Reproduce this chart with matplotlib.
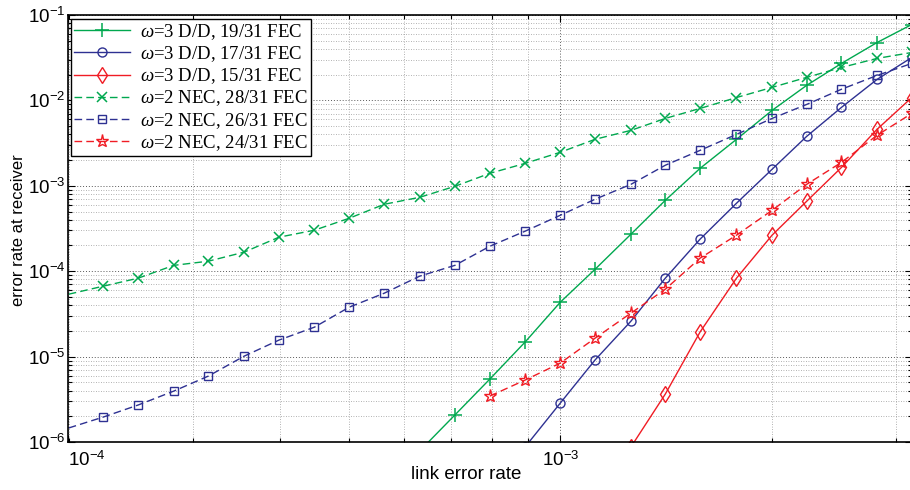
import numpy as np
import matplotlib
matplotlib.use('Agg')
import matplotlib.pyplot as plt
from matplotlib.ticker import LogLocator, NullFormatter

plt.rcParams['font.family'] = 'Liberation Sans'
plt.rcParams['mathtext.fontset'] = 'custom'
plt.rcParams['mathtext.rm'] = 'Liberation Sans'
plt.rcParams['mathtext.it'] = 'Liberation Serif:italic'

# link error rate grid (the left edge sample is the first one)
ler = [2.00e-4, 2.24e-4, 2.51e-4, 2.82e-4, 3.16e-4, 3.55e-4, 3.98e-4, 4.47e-4,
       5.01e-4, 5.62e-4, 6.31e-4, 7.08e-4, 7.94e-4, 8.91e-4, 1.00e-3, 1.12e-3,
       1.26e-3, 1.41e-3, 1.58e-3, 1.78e-3, 2.00e-3, 2.24e-3, 2.51e-3, 2.82e-3,
       3.16e-3]

dd19 = [7.85e-7, 2.07e-6, 5.46e-6, 1.48e-5, 4.34e-5, 1.05e-4, 2.71e-4, 6.76e-4,
        1.60e-3, 3.50e-3, 7.64e-3, 1.50e-2, 2.71e-2, 4.76e-2, 7.74e-2]
dd17 = [8.74e-7, 2.86e-6, 9.10e-6, 2.60e-5, 8.28e-5, 2.37e-4, 6.24e-4, 1.56e-3,
        3.79e-3, 8.28e-3, 1.76e-2, 3.18e-2]
dd15 = [8.74e-7, 3.64e-6, 1.94e-5, 8.28e-5, 2.64e-4, 6.59e-4, 1.64e-3, 4.58e-3,
        1.08e-2]
nec28 = [5.38e-5, 6.68e-5, 8.28e-5, 1.17e-4, 1.31e-4, 1.67e-4, 2.50e-4, 3.02e-4,
         4.17e-4, 6.08e-4, 7.33e-4, 9.86e-4, 1.40e-3, 1.83e-3, 2.47e-3, 3.50e-3,
         4.46e-3, 6.15e-3, 8.05e-3, 1.08e-2, 1.42e-2, 1.86e-2, 2.43e-2, 3.10e-2,
         3.64e-2]
nec26 = [1.46e-6, 1.96e-6, 2.71e-6, 3.94e-6, 5.92e-6, 1.01e-5, 1.56e-5, 2.21e-5,
         3.79e-5, 5.53e-5, 8.75e-5, 1.17e-4, 1.96e-4, 2.94e-4, 4.52e-4, 6.95e-4,
         1.04e-3, 1.74e-3, 2.60e-3, 4.00e-3, 6.15e-3, 8.97e-3, 1.35e-2, 1.96e-2,
         2.71e-2]
nec24 = [3.45e-6, 5.31e-6, 8.40e-6, 1.64e-5, 3.23e-5, 6.15e-5, 1.42e-4, 2.64e-4,
         5.16e-4, 1.04e-3, 1.88e-3, 3.90e-3, 7.04e-3]

labels = [r'$\omega$=3 D/D, 19/31 FEC', r'$\omega$=3 D/D, 17/31 FEC',
          r'$\omega$=3 D/D, 15/31 FEC', r'$\omega$=2 NEC, 28/31 FEC',
          r'$\omega$=2 NEC, 26/31 FEC', r'$\omega$=2 NEC, 24/31 FEC']

green = '#00a84f'
blue = '#2e3192'
red = '#f01c24'

fig = plt.figure(figsize=(9.1, 4.9), dpi=100)
ax = fig.add_axes([68/910, 1 - 442/490, 844/910, 427/490])

dash = (5.5, 3)
lw = 1.0
ax.plot(ler[-len(dd19):], dd19, color=green, lw=lw, marker='+', ms=10, mew=1.1,
        label=labels[0])
ax.plot(ler[-len(dd17):], dd17, color=blue, lw=lw, marker='o', ms=6.5, mew=1.0,
        mfc='none', label=labels[1])
ax.plot(ler[-len(dd15):], dd15, color=red, lw=lw, marker='d', ms=8, mew=1.0,
        mfc='none', label=labels[2])
ax.plot(ler, nec28, color=green, lw=lw, ls='--', dashes=dash, marker='x', ms=7,
        mew=1.1, markevery=list(range(1, len(ler))), label=labels[3])
ax.plot(ler, nec26, color=blue, lw=lw, ls='--', dashes=dash, marker='s', ms=5.5,
        mew=1.0, mfc='none', markevery=list(range(1, len(ler))), label=labels[4])
ax.plot(ler[-len(nec24):], nec24, color=red, lw=lw, ls='--', dashes=dash,
        marker='*', ms=9.5, mew=1.0, mfc='none', label=labels[5])

ax.set_xscale('log')
ax.set_yscale('log')
ax.set_xlim(10**-3.7, 10**-2.5)
ax.set_ylim(1e-6, 1e-1)

ax.set_xticks([10**-3.7, 1e-3], [r'$10^{-4}$', r'$10^{-3}$'])
ax.get_xticklabels()[0].set_horizontalalignment('left')
ax.xaxis.set_minor_locator(LogLocator(base=10, subs=np.arange(2, 10)))
ax.xaxis.set_minor_formatter(NullFormatter())
ax.yaxis.set_major_locator(LogLocator(base=10, numticks=10))
ax.yaxis.set_minor_locator(LogLocator(base=10, subs=np.arange(2, 10), numticks=20))
ax.yaxis.set_minor_formatter(NullFormatter())

ax.tick_params(which='both', direction='in', top=True, right=True, width=0.8)
ax.tick_params(which='major', length=5, labelsize=13.5)
ax.tick_params(which='minor', length=3)
ax.tick_params(axis='x', which='major', pad=6)
ax.tick_params(axis='y', which='major', pad=2)

ax.set_axisbelow(True)
ax.grid(True, which='major', ls=(0, (1, 2)), color='0.35', lw=0.7)
ax.grid(True, which='minor', ls=(0, (1, 2)), color='0.6', lw=0.6)
for sp in ax.spines.values():
    sp.set_linewidth(1.2)

ax.set_xlabel('link error rate', fontsize=13.5)
ax.xaxis.set_label_coords(0.4716, -0.056)
ax.set_ylabel('error rate at receiver', fontsize=12)
ax.yaxis.set_label_coords(-0.050, 0.4965)

leg = ax.legend(loc='upper left', bbox_to_anchor=(0.0036, 0.9906), borderaxespad=0,
                prop={'family': 'Liberation Serif', 'size': 13.5}, fancybox=False,
                edgecolor='black', framealpha=1, handlelength=3.0,
                handletextpad=0.55, labelspacing=0.13, borderpad=0.15)
leg.get_frame().set_linewidth(1.0)

fig.savefig('out.png', dpi=100)
